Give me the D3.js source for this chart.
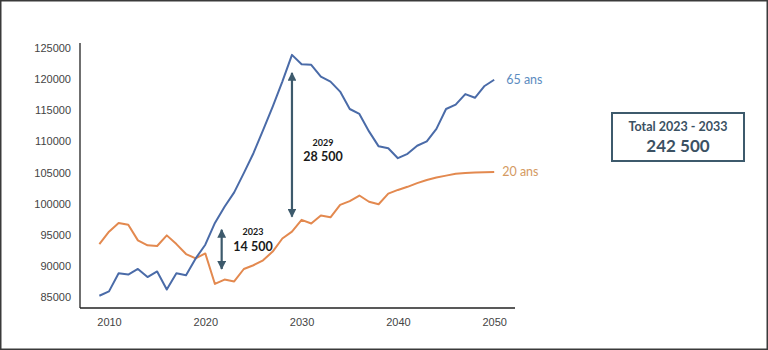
<!DOCTYPE html>
<html>
<head>
<meta charset="utf-8">
<script src="https://cdn.jsdelivr.net/npm/d3@7"></script>
<style>
  body { margin: 0; background: #fff; }
  .axis text { font-family: "Liberation Sans", Arial, sans-serif; font-size: 11px; fill: #444; }
  .note { font-family: Lato, "Open Sans", sans-serif; font-weight: 700; fill: #1a1a1a; }
</style>
</head>
<body>
<div id="chart"></div>
<script>
var width = 768, height = 350;

// data
var years = d3.range(2009, 2051);
var ans65 = [85200, 85900, 88800, 88600, 89500, 88200, 89100, 86200, 88800, 88500,
    91200, 93400, 96900, 99500, 101800, 104900, 108100, 111800, 115600, 119600,
    123900, 122400, 122300, 120400, 119600, 118000, 115200, 114400, 111600, 109200,
    108900, 107300, 108000, 109300, 110000, 112000, 115200, 115900, 117600, 117000,
    118900, 119900];
var ans20 = [93500, 95500, 96900, 96600, 94100, 93300, 93200, 94900, 93500, 91900,
    91200, 92000, 87100, 87800, 87500, 89500, 90100, 90900, 92300, 94400,
    95500, 97400, 96800, 98100, 97800, 99800, 100400, 101300, 100300, 99900,
    101600, 102200, 102700, 103300, 103800, 104200, 104500, 104800, 104900, 105000,
    105050, 105100];
var yTicks = [85000, 90000, 95000, 100000, 105000, 110000, 115000, 120000, 125000];
var xTicks = [2010, 2020, 2030, 2040, 2050];

// arrows: year, from, to, small label, big label
var arrowYears = [2021.7, 2029];
var arrowTop = [95800, 121000];
var arrowBottom = [89500, 97900];
var arrowYearLabels = ['2023', '2029'];
var arrowValueLabels = ['14 500', '28 500'];

var blue = '#4a6ba8', orange = '#e3894f', slate = '#3d5a6c';

var x = d3.scaleLinear().domain([2010, 2050]).range([109, 494.2]);
var y = d3.scaleLinear().domain([85000, 125000]).range([297, 48]);

var svg = d3.select('#chart').append('svg')
    .attr('width', width)
    .attr('height', height);

// outer frame
svg.append('rect')
    .attr('x', 0.75).attr('y', 0.75)
    .attr('width', width - 1.5).attr('height', height - 1.5)
    .attr('fill', 'none').attr('stroke', '#3a3a3a').attr('stroke-width', 1.5);

var defs = svg.append('defs');
defs.append('marker')
    .attr('id', 'head')
    .attr('viewBox', '0 0 10 10')
    .attr('refX', 9).attr('refY', 5)
    .attr('markerWidth', 4).attr('markerHeight', 4)
    .attr('orient', 'auto-start-reverse')
    .append('path')
    .attr('d', 'M0,0 L10,5 L0,10 z')
    .attr('fill', slate);

// axes
svg.append('g').attr('class', 'axis')
    .attr('transform', 'translate(80,0)')
    .call(d3.axisLeft(y).tickValues(yTicks).tickSize(0).tickPadding(9).tickFormat(d3.format('d')))
    .call(g => g.select('.domain').remove());

svg.append('g').attr('class', 'axis')
    .attr('transform', 'translate(0,308)')
    .call(d3.axisBottom(x).tickValues(xTicks).tickSize(0).tickPadding(10).tickFormat(d3.format('d')))
    .call(g => g.select('.domain').remove());

svg.append('line')
    .attr('x1', 80).attr('x2', 80).attr('y1', 43).attr('y2', 308)
    .attr('stroke', '#222').attr('stroke-width', 1.3);
svg.append('line')
    .attr('x1', 80).attr('x2', 515).attr('y1', 308).attr('y2', 308)
    .attr('stroke', '#222').attr('stroke-width', 1.3);

var line = d3.line()
    .x(function (d, i) { return x(years[i]); })
    .y(function (d) { return y(d); });

svg.append('path').datum(ans20)
    .attr('d', line)
    .attr('fill', 'none').attr('stroke', orange).attr('stroke-width', 2)
    .attr('stroke-linejoin', 'round');

svg.append('path').datum(ans65)
    .attr('d', line)
    .attr('fill', 'none').attr('stroke', blue).attr('stroke-width', 2)
    .attr('stroke-linejoin', 'round');

// series labels
svg.append('text')
    .attr('x', x(2050) + 12).attr('y', y(ans65[ans65.length - 1]) + 4)
    .attr('font-family', 'Lato, "Open Sans", sans-serif').attr('font-size', 12.5)
    .attr('fill', '#5b8cbf').text('65 ans');
svg.append('text')
    .attr('x', x(2050) + 8).attr('y', y(ans20[ans20.length - 1]) + 4)
    .attr('font-family', 'Lato, "Open Sans", sans-serif').attr('font-size', 12.5)
    .attr('fill', '#d49a62').text('20 ans');

// arrows
arrowYears.forEach(function (yr, i) {
    svg.append('line')
        .attr('x1', x(yr)).attr('x2', x(yr))
        .attr('y1', y(arrowTop[i])).attr('y2', y(arrowBottom[i]))
        .attr('stroke', slate).attr('stroke-width', 2.2)
        .attr('marker-start', 'url(#head)')
        .attr('marker-end', 'url(#head)');
});

svg.append('text').attr('class', 'note')
    .attr('x', 253).attr('y', 235).attr('text-anchor', 'middle')
    .attr('font-size', 9).text(arrowYearLabels[0]);
svg.append('text').attr('class', 'note')
    .attr('x', 253).attr('y', 251).attr('text-anchor', 'middle')
    .attr('font-size', 12.5).text(arrowValueLabels[0]);
svg.append('text').attr('class', 'note')
    .attr('x', 323).attr('y', 146).attr('text-anchor', 'middle')
    .attr('font-size', 9).text(arrowYearLabels[1]);
svg.append('text').attr('class', 'note')
    .attr('x', 323).attr('y', 161).attr('text-anchor', 'middle')
    .attr('font-size', 12.5).text(arrowValueLabels[1]);

// total box
svg.append('rect')
    .attr('x', 612).attr('y', 113).attr('width', 132).attr('height', 48)
    .attr('fill', '#fff').attr('stroke', slate).attr('stroke-width', 2);
svg.append('text')
    .attr('x', 678).attr('y', 131).attr('text-anchor', 'middle')
    .attr('font-family', 'Lato, "Open Sans", sans-serif').attr('font-weight', 700)
    .attr('font-size', 12.5).attr('fill', '#3b5163')
    .text('Total 2023 - 2033');
svg.append('text')
    .attr('x', 678).attr('y', 152).attr('text-anchor', 'middle')
    .attr('font-family', 'Lato, "Open Sans", sans-serif').attr('font-weight', 700)
    .attr('font-size', 17).attr('fill', '#3b5163')
    .text('242 500');
</script>
</body>
</html>
